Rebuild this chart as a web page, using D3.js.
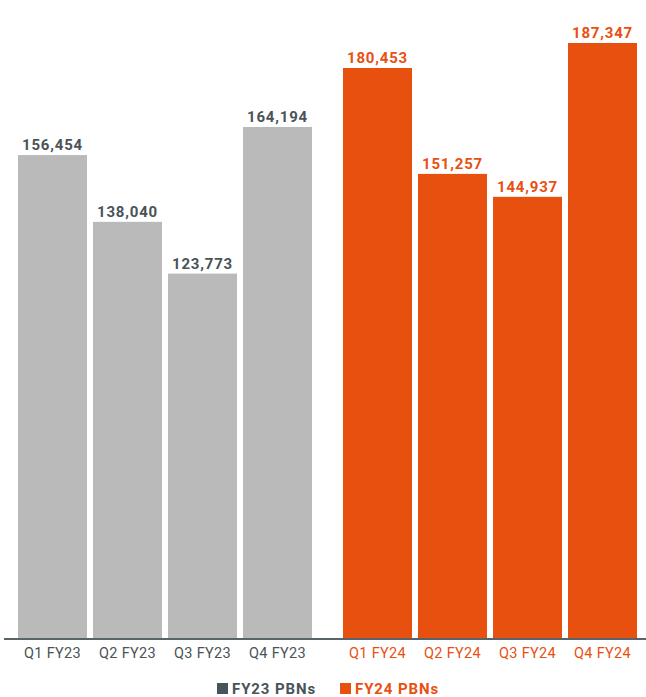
<!DOCTYPE html>
<html>
<head>
<meta charset="utf-8">
<script src="https://cdn.jsdelivr.net/npm/d3@7"></script>
<style>
  body { margin: 0; background: #fff; }
  svg { display: block; font-family: Roboto, "Open Sans", sans-serif; }
</style>
</head>
<body>
<svg id="chart" width="646" height="697"></svg>
<script>
// data
const quarters = ['Q1', 'Q2', 'Q3', 'Q4'];
const years = ['FY23', 'FY24'];
const fy23 = [156454, 138040, 123773, 164194];
const fy24 = [180453, 151257, 144937, 187347];
const legendLabels = ['FY23 PBNs', 'FY24 PBNs'];

const colors = { FY23: '#bababa', FY24: '#e8500f' };
const textColors = { FY23: '#4a5357', FY24: '#e8500f' };

const svg = d3.select('svg#chart');
const baseline = 638;

const rows = years.map((yr, i) => ({
	year: yr,
	values: (i === 0 ? fy23 : fy24).map((v, j) => ({ q: quarters[j], year: yr, value: v }))
}));

const x0 = d3.scaleBand().domain(years).range([18, 637]).paddingInner(0.0954);
const x1 = d3.scaleBand().domain(quarters).range([0, x0.bandwidth()]).paddingInner(0.08);
// the original bars are not drawn from zero; fit the axis to them
const y = d3.scaleLinear().domain([23300, 187347]).range([baseline, 43]);
const fmt = d3.format(',');

const groups = svg.selectAll('g.group')
	.data(rows)
	.join('g')
	.attr('class', 'group')
	.attr('transform', d => `translate(${x0(d.year)},0)`);

groups.selectAll('rect')
	.data(d => d.values)
	.join('rect')
	.attr('x', d => x1(d.q))
	.attr('width', x1.bandwidth())
	.attr('y', d => y(d.value))
	.attr('height', d => baseline - y(d.value))
	.attr('fill', d => colors[d.year]);

groups.selectAll('text.value')
	.data(d => d.values)
	.join('text')
	.attr('class', 'value')
	.attr('x', d => x1(d.q) + x1.bandwidth() / 2)
	.attr('y', d => y(d.value) - 5)
	.attr('text-anchor', 'middle')
	.attr('font-size', 15)
	.attr('font-weight', 700)
	.attr('letter-spacing', 0.8)
	.attr('fill', d => textColors[d.year])
	.text(d => fmt(d.value));

groups.selectAll('text.tick')
	.data(d => d.values)
	.join('text')
	.attr('class', 'tick')
	.attr('x', d => x1(d.q) + x1.bandwidth() / 2)
	.attr('y', 658)
	.attr('text-anchor', 'middle')
	.attr('font-size', 14.5)
	.attr('letter-spacing', 0.3)
	.attr('fill', d => d.year === 'FY23' ? '#4a5357' : colors.FY24)
	.text(d => `${d.q} ${d.year}`);

// axis line
svg.append('line')
	.attr('x1', 4).attr('x2', 646)
	.attr('y1', baseline + 1).attr('y2', baseline + 1)
	.attr('stroke', '#5a6468')
	.attr('stroke-width', 2);

// legend
const legendX = [217, 340];
const legend = svg.selectAll('g.legend')
	.data(years)
	.join('g')
	.attr('class', 'legend')
	.attr('transform', (d, i) => `translate(${legendX[i]},683)`);
legend.append('rect')
	.attr('width', 11).attr('height', 11)
	.attr('fill', d => d === 'FY23' ? '#4a5357' : colors.FY24);
legend.append('text')
	.attr('x', 15).attr('y', 11)
	.attr('font-size', 15)
	.attr('font-weight', 700)
	.attr('letter-spacing', 0.9)
	.attr('fill', d => textColors[d])
	.text((d, i) => legendLabels[i]);
</script>
</body>
</html>
